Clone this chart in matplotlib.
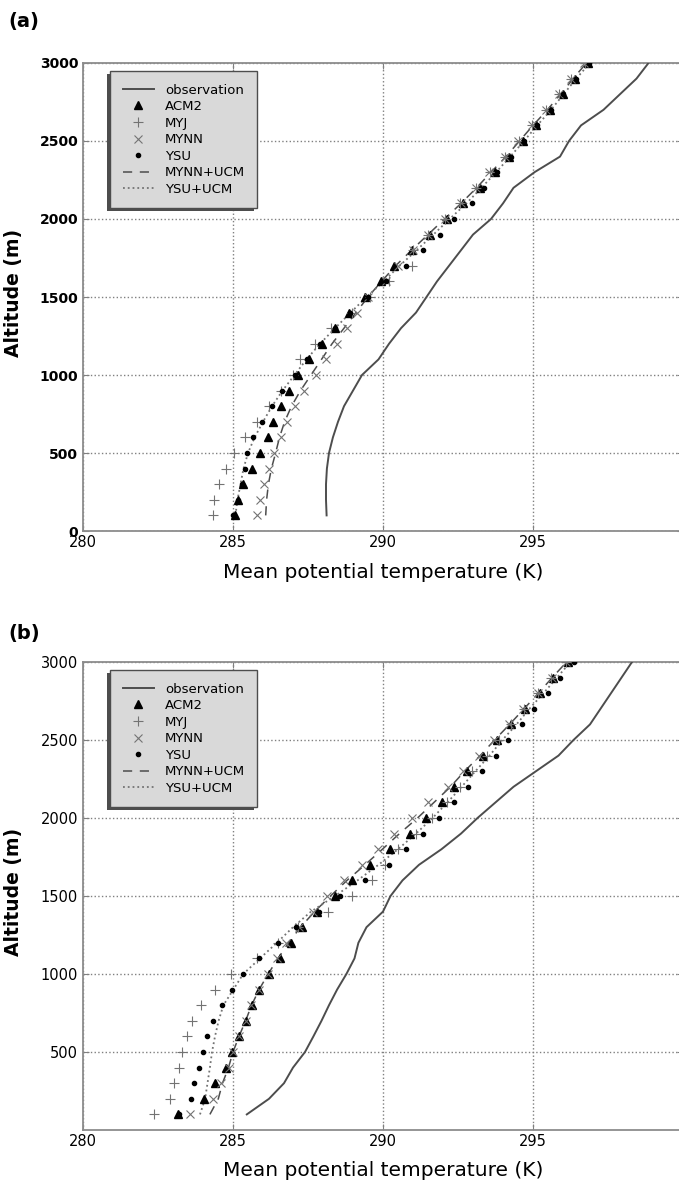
import numpy as np
import matplotlib.pyplot as plt
from matplotlib.patches import Rectangle

# altitude levels (m)
levels = list(range(100, 3100, 100))

# ---- panel (a) ----
obs_a = [288.12, 288.10, 288.10, 288.13, 288.20, 288.33, 288.50, 288.70, 289.00, 289.30,
         289.85, 290.20, 290.60, 291.10, 291.45, 291.80, 292.20, 292.60, 293.00, 293.60,
         294.00, 294.35, 295.05, 295.90, 296.20, 296.60, 297.35, 297.90, 298.45, 298.85]
acm2_a = [285.05, 285.18, 285.34, 285.64, 285.90, 286.16, 286.34, 286.60, 286.87, 287.16,
          287.52, 287.95, 288.40, 288.88, 289.40, 289.92, 290.38, 290.98, 291.57, 292.14,
          292.68, 293.23, 293.73, 294.21, 294.66, 295.10, 295.57, 295.99, 296.40, 296.84]
myj_a = [284.34, 284.38, 284.54, 284.76, 285.03, 285.40, 285.79, 286.20, 286.60, 287.01,
         287.23, 287.73, 288.25, 288.95, 289.55, 290.20, 290.95, 291.00, 291.50, 292.05,
         292.55, 293.10, 293.55, 294.05, 294.52, 294.95, 295.42, 295.85, 296.28, 296.72]
mynn_a = [285.79, 285.90, 286.04, 286.20, 286.38, 286.59, 286.81, 287.07, 287.38, 287.76,
          288.10, 288.46, 288.79, 289.12, 289.51, 290.10, 290.50, 291.00, 291.50, 292.05,
          292.60, 293.10, 293.54, 294.07, 294.50, 294.95, 295.42, 295.85, 296.28, 296.70]
ysu_a = [285.00, 285.15, 285.30, 285.40, 285.48, 285.68, 285.96, 286.29, 286.62, 287.05,
         287.45, 287.90, 288.40, 288.90, 289.50, 290.10, 290.75, 291.34, 291.90, 292.37,
         292.96, 293.35, 293.80, 294.25, 294.70, 295.12, 295.60, 296.00, 296.42, 296.88]
mynn_ucm_a = [286.09, 286.12, 286.18, 286.28, 286.42, 286.55, 286.72, 286.95, 287.25, 287.60,
              287.95, 288.30, 288.70, 289.10, 289.50, 289.95, 290.42, 290.95, 291.50, 292.05,
              292.60, 293.12, 293.60, 294.10, 294.55, 295.00, 295.48, 295.92, 296.34, 296.78]
ysu_ucm_a = [285.08, 285.15, 285.25, 285.35, 285.50, 285.72, 286.00, 286.30, 286.65, 287.05,
             287.45, 287.90, 288.40, 288.92, 289.45, 290.02, 290.55, 291.12, 291.68, 292.22,
             292.78, 293.28, 293.77, 294.24, 294.70, 295.14, 295.60, 296.02, 296.44, 296.90]

# ---- panel (b) ----
obs_b = [285.46, 286.20, 286.70, 287.00, 287.40, 287.68, 287.95, 288.20, 288.47, 288.78,
         289.05, 289.18, 289.45, 290.00, 290.25, 290.65, 291.20, 291.95, 292.60, 293.15,
         293.75, 294.35, 295.10, 295.85, 296.35, 296.90, 297.25, 297.60, 297.95, 298.30]
acm2_b = [283.18, 284.03, 284.41, 284.78, 284.98, 285.21, 285.44, 285.63, 285.88, 286.20,
          286.55, 286.92, 287.30, 287.80, 288.40, 288.96, 289.57, 290.23, 290.90, 291.42,
          291.96, 292.37, 292.81, 293.32, 293.79, 294.27, 294.73, 295.23, 295.68, 296.18]
myj_b = [282.37, 282.90, 283.02, 283.19, 283.30, 283.47, 283.63, 283.94, 284.39, 284.93,
         285.80, 286.50, 287.15, 288.18, 288.98, 289.62, 290.05, 290.50, 291.10, 291.62,
         292.12, 292.55, 292.95, 293.45, 293.85, 294.25, 294.70, 295.15, 295.60, 296.10]
mynn_b = [283.57, 284.32, 284.60, 284.85, 285.00, 285.20, 285.42, 285.60, 285.85, 286.15,
          286.45, 286.78, 287.20, 287.68, 288.14, 288.70, 289.29, 289.82, 290.37, 290.98,
          291.51, 292.18, 292.68, 293.20, 293.70, 294.20, 294.68, 295.15, 295.62, 296.10]
ysu_b = [283.20, 283.60, 283.71, 283.88, 284.00, 284.13, 284.32, 284.63, 284.96, 285.32,
         285.85, 286.50, 287.10, 287.85, 288.58, 289.40, 290.20, 290.77, 291.34, 291.87,
         292.37, 292.84, 293.29, 293.76, 294.16, 294.62, 295.04, 295.49, 295.90, 296.35]
mynn_ucm_b = [284.23, 284.51, 284.65, 284.85, 285.00, 285.20, 285.42, 285.62, 285.87, 286.17,
              286.50, 286.85, 287.25, 287.72, 288.25, 288.80, 289.40, 289.98, 290.55, 291.15,
              291.70, 292.25, 292.72, 293.24, 293.72, 294.22, 294.70, 295.18, 295.64, 296.12]
ysu_ucm_b = [283.90, 284.07, 284.15, 284.23, 284.30, 284.40, 284.52, 284.68, 285.01, 285.34,
             285.90, 286.46, 287.00, 287.60, 288.40, 289.15, 289.85, 290.50, 291.10, 291.65,
             292.15, 292.62, 293.08, 293.55, 293.98, 294.45, 294.88, 295.35, 295.80, 296.25]

panels = [
    ("(a)", obs_a, acm2_a, myj_a, mynn_a, ysu_a, mynn_ucm_a, ysu_ucm_a, [0, 500, 1000, 1500, 2000, 2500, 3000]),
    ("(b)", obs_b, acm2_b, myj_b, mynn_b, ysu_b, mynn_ucm_b, ysu_ucm_b, [500, 1000, 1500, 2000, 2500, 3000]),
]

W, H = 679, 1182
fig = plt.figure(figsize=(W / 100, H / 100), dpi=100)
plt.rcParams['font.family'] = 'DejaVu Sans'

# axes boxes in pixels: left, top, right, bottom (right edge runs past the picture)
boxes = [(83, 63, 683, 531), (83, 662, 683, 1130)]
label_y = [21, 633]
xlabel_y = [572, 1170]

for i, (tag, obs, acm2, myj, mynn, ysu, mynn_ucm, ysu_ucm, yt) in enumerate(panels):
    l, t, r, b = boxes[i]
    ax = fig.add_axes([l / W, 1 - b / H, (r - l) / W, (b - t) / H])
    ax.plot(obs, levels, color='0.3', lw=1.4, label='observation', zorder=3)
    ax.plot(acm2, levels, '^', color='k', ms=5.5, label='ACM2', zorder=5)
    ax.plot(myj, levels, '+', color='0.45', ms=7, mew=0.8, label='MYJ', zorder=5)
    ax.plot(mynn, levels, 'x', color='0.45', ms=6, mew=0.8, label='MYNN', zorder=5)
    ax.plot(ysu, levels, 'o', color='k', ms=3, label='YSU', zorder=5)
    ax.plot(mynn_ucm, levels, '--', color='0.3', lw=1.1, dashes=(6, 5), label='MYNN+UCM', zorder=4)
    ax.plot(ysu_ucm, levels, ':', color='0.45', lw=1.3, label='YSU+UCM', zorder=4)

    ax.set_xlim(280, 300)
    ax.set_ylim(0, 3000)
    ax.set_xticks([280, 285, 290, 295])
    ax.set_yticks(yt)
    ax.grid(True, ls=':', color='0.5', lw=1)
    ax.tick_params(direction='in', top=True, right=True, length=4, color='0.5')
    ax.tick_params(axis='x', labelsize=10.5, pad=3)
    ax.tick_params(axis='y', labelsize=10.5)
    if i == 0:
        for lab in ax.get_yticklabels():
            lab.set_fontweight('bold')
            lab.set_fontsize(10)
    for s in ax.spines.values():
        s.set_color('0.55')
        s.set_linewidth(1.3)

    leg = ax.legend(loc='upper left', bbox_to_anchor=(27 / (r - l), 1 - 8 / (b - t)),
                    fontsize=9.5, labelspacing=0.27, handlelength=2.4, handletextpad=0.8,
                    borderpad=0.95, borderaxespad=0, frameon=True, fancybox=False,
                    numpoints=1)
    fr = leg.get_frame()
    fr.set_facecolor('0.85')
    fr.set_edgecolor('0.3')
    fr.set_linewidth(1.0)
    fr.set_alpha(1)

    fig.text(8 / W, 1 - label_y[i] / H, tag, fontsize=14, fontweight='bold', ha='left', va='center')
    fig.text(13 / W, 1 - ((t + b) / 2 - 4) / H, 'Altitude (m)', fontsize=13.5, fontweight='bold',
             rotation=90, ha='center', va='center')
    fig.text(383 / W, 1 - xlabel_y[i] / H, 'Mean potential temperature (K)', fontsize=14.5,
             ha='center', va='center')

# shadow behind each legend, offset down-left
fig.canvas.draw()
for ax in fig.axes:
    leg = ax.get_legend()
    bb = leg.get_window_extent()
    inv = ax.transAxes.inverted()
    (x0, y0) = inv.transform((bb.x0 - 3, bb.y0 - 3))
    (x1, y1) = inv.transform((bb.x1 - 3, bb.y1 - 3))
    ax.add_patch(Rectangle((x0, y0), x1 - x0, y1 - y0, transform=ax.transAxes,
                           facecolor='0.3', edgecolor='none', clip_on=False, zorder=4.9))

fig.savefig('out.png', dpi=100)
